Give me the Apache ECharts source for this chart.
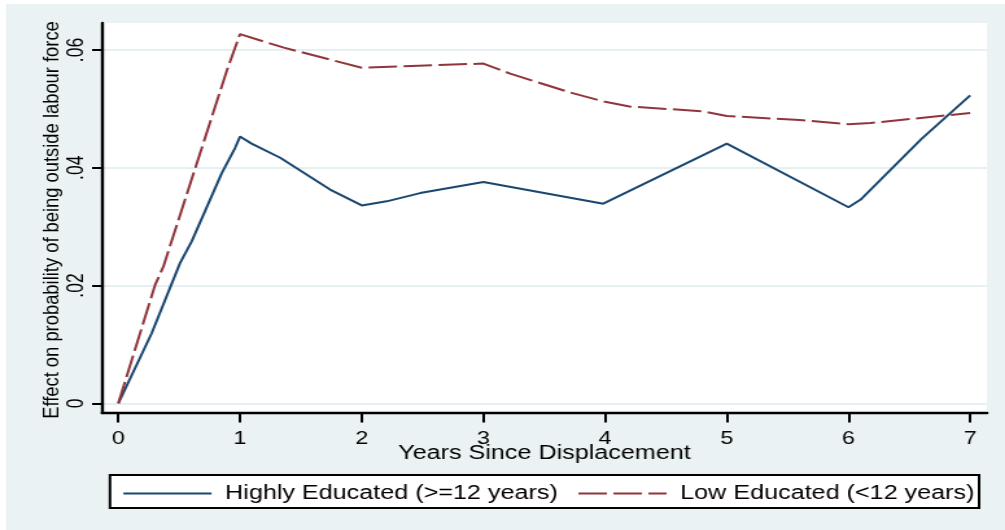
<!DOCTYPE html>
<html>
<head>
<meta charset="utf-8">
<script src="https://cdn.jsdelivr.net/npm/echarts@6/dist/echarts.min.js"></script>
<style>
  html, body { margin: 0; padding: 0; background: #ffffff; width: 1005px; height: 530px; overflow: hidden; }
  #frame { position: absolute; left: 6px; top: 4px; right: 0; bottom: 0; background: #EAF2F3; }
  #chart { position: absolute; left: 0; top: 0; width: 775px; height: 530px; transform-origin: 0 0; }
</style>
</head>
<body>
<div id="frame"></div>
<div id="chart"></div>
<script>
// Years since displacement and estimated effects, highly educated workers
const highYears  = [0, 0.274, 0.507, 0.603, 0.85, 0.96, 1.0, 1.095, 1.33, 1.74, 2.0, 2.205, 2.48, 3.0, 3.985, 5.0, 6.0, 6.1, 6.6, 7.0];
const highEffect = [0, 0.0119, 0.0238, 0.0275, 0.0391, 0.0434, 0.0453, 0.0441, 0.0417, 0.0363, 0.0336, 0.0343, 0.0357, 0.0376, 0.0339, 0.0441, 0.0333, 0.0346, 0.0449, 0.0523];

// Low educated workers
const lowYears  = [0, 0.302, 0.37, 0.89, 1.0, 1.36, 2.0, 2.41, 3.0, 3.22, 3.71, 4.0, 4.2, 4.8, 5.0, 5.6, 6.0, 6.18, 7.0];
const lowEffect = [0, 0.0201, 0.0232, 0.0564, 0.0627, 0.0604, 0.0570, 0.0573, 0.0577, 0.0560, 0.0528, 0.0512, 0.0504, 0.0496, 0.0488, 0.0481, 0.0474, 0.0476, 0.0493];

const xTicks = [0, 1, 2, 3, 4, 5, 6, 7];
const yTicks = [0, 0.02, 0.04, 0.06];

const seriesNames = ['Highly Educated (>=12 years)', 'Low Educated (<12 years)'];
const xTitle = 'Years Since Displacement';
const yTitle = 'Effect on probability of being outside labour force';

// The chart is laid out on a narrower canvas and widened horizontally.
const PAGE_W = 1005, CHART_W = 775, SX = PAGE_W / CHART_W;
const el = document.getElementById('chart');
el.style.transform = 'scaleX(' + SX + ')';

const FONT = '"Liberation Sans", Arial, Helvetica, sans-serif';
const NAVY = '#1A476F', MAROON = '#90353B';

const pairs = (xs, ys) => xs.map((x, i) => [x, ys[i]]);
const fmtY = v => v === 0 ? '0' : v.toFixed(2).replace(/^0/, '');

const chart = echarts.init(el, null, { renderer: 'canvas' });
chart.setOption({
  backgroundColor: 'transparent',
  animation: false,
  textStyle: { fontFamily: FONT },
  grid: {
    left: 78.7, right: 13.9, top: 23, bottom: 117,
    show: true, backgroundColor: '#ffffff', borderWidth: 0
  },
  xAxis: {
    type: 'value',
    min: -0.1336, max: 7.138,
    name: xTitle,
    nameLocation: 'middle',
    nameGap: 31,
    nameMoveOverlap: false,
    nameTextStyle: { fontSize: 19.4, color: '#000', fontFamily: FONT },
    axisLine: { show: true, onZero: false, lineStyle: { color: '#000', width: 2.4 } },
    axisTick: { show: true, length: 9.5, customValues: xTicks, lineStyle: { color: '#000', width: 2 } },
    axisLabel: { show: true, margin: 17, customValues: xTicks, fontSize: 18, color: '#000', fontFamily: FONT },
    splitLine: { show: false }
  },
  yAxis: {
    type: 'value',
    min: -0.00165, max: 0.06459,
    axisLine: { show: true, onZero: false, lineStyle: { color: '#000', width: 2.4 } },
    axisTick: { show: true, length: 7.7, customValues: yTicks, lineStyle: { color: '#000', width: 2 } },
    axisLabel: { show: true, rotate: 90, margin: 11, customValues: yTicks, fontSize: 17.5, color: '#000', fontFamily: FONT, formatter: fmtY },
    splitLine: { show: true, lineStyle: { color: '#E6EFF1', width: 2 } }
  },
  legend: {
    left: 94.1, top: 484,
    padding: 0,
    itemGap: 14.9,
    itemWidth: 68, itemHeight: 18,
    itemStyle: { opacity: 0 },
    textStyle: { fontSize: 19.4, color: '#000', fontFamily: FONT, padding: [0, 0, 0, 5.5] },
    data: seriesNames
  },
  graphic: [
    {
      type: 'rect', z: -1,
      shape: { x: 84.8, y: 475, width: 670.2, height: 33 },
      style: { fill: '#ffffff', stroke: '#000', lineWidth: 2 }
    },
    {
      type: 'text',
      x: 40.9, y: 220,
      rotation: Math.PI / 2,
      scaleX: 1.12,
      style: { text: yTitle, fontSize: 16.4, fontFamily: FONT, fill: '#000', align: 'center', verticalAlign: 'middle' }
    }
  ],
  series: [
    {
      name: seriesNames[0], type: 'line',
      data: pairs(highYears, highEffect),
      symbol: 'none', showSymbol: false,
      lineStyle: { color: NAVY, width: 2 },
      itemStyle: { color: NAVY }
    },
    {
      name: seriesNames[1], type: 'line',
      data: pairs(lowYears, lowEffect),
      symbol: 'none', showSymbol: false,
      lineStyle: { color: MAROON, width: 2, type: [22, 5] },
      itemStyle: { color: MAROON }
    }
  ]
});
</script>
</body>
</html>
